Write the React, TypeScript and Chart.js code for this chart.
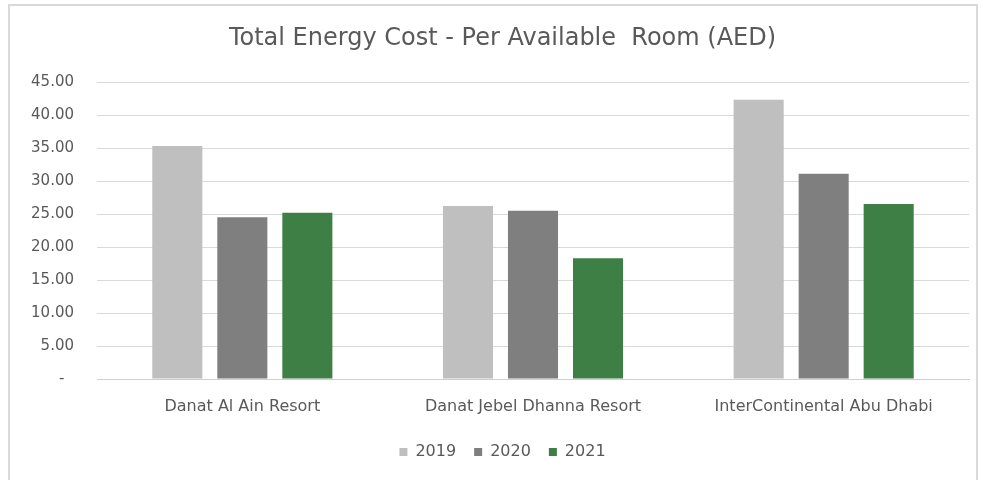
import React, { useEffect, useRef } from "react";
import { Chart, registerables } from "chart.js";

Chart.register(...registerables);

const categories = ["Danat Al Ain Resort", "Danat Jebel Dhanna Resort", "InterContinental Abu Dhabi"];
const seriesLabels = ["2019", "2020", "2021"];
const values2019 = [35.3, 26.2, 42.3];
const values2020 = [24.5, 25.5, 31.1];
const values2021 = [25.2, 18.3, 26.5];
const seriesColors = ["#bfbfbf", "#7f7f7f", "#3d7f45"];
const titleText = "Total Energy Cost - Per Available  Room (AED)";
const yMax = 45;
const yStep = 5;

const unclipYLabels = {
  id: "unclipYLabels",
  afterLayout(chart: any) {
    const y = chart.scales.y;
    if (y) y.left = 0;
  },
};

export default function App() {
  const canvasRef = useRef<HTMLCanvasElement | null>(null);

  useEffect(() => {
    document.body.style.margin = "0";
    const canvas = canvasRef.current;
    if (!canvas) return;
    const font = "'DejaVu Sans', sans-serif";
    const chart = new Chart(canvas, {
      type: "bar",
      data: {
        labels: categories,
        datasets: [values2019, values2020, values2021].map((vals, i) => ({
          label: seriesLabels[i],
          data: vals,
          backgroundColor: seriesColors[i],
          borderWidth: 0,
          categoryPercentage: 0.671,
          barPercentage: 0.77,
        })),
      },
      plugins: [unclipYLabels],
      options: {
        responsive: false,
        animation: false,
        devicePixelRatio: 1,
        layout: { padding: { left: 36, right: 14, top: 10, bottom: 10 } },
        plugins: {
          title: {
            display: true,
            text: titleText,
            color: "#595959",
            font: { family: font, size: 24, weight: "normal" },
            padding: { top: 14.6, bottom: 28.6 },
          },
          legend: {
            display: true,
            position: "bottom",
            labels: {
              boxWidth: 8,
              boxHeight: 8,
              padding: 18,
              color: "#595959",
              font: { family: font, size: 16 },
            },
          },
          tooltip: { enabled: false },
        },
        scales: {
          x: {
            grid: { display: false, drawTicks: false },
            border: { display: true, color: "#d0d0d0", width: 1 },
            ticks: {
              color: "#595959",
              font: { family: font, size: 16 },
              padding: 18,
              maxRotation: 0,
            },
            afterFit: (scale: any) => {
              scale.height = 47;
            },
          },
          y: {
            min: 0,
            max: yMax,
            grid: { color: "#d9d9d9", drawTicks: false, lineWidth: 1 },
            border: { display: false },
            ticks: {
              stepSize: yStep,
              color: "#595959",
              font: { family: font, size: 15 },
              padding: 23,
              callback: (v: any) => (Number(v) === 0 ? "-  " : Number(v).toFixed(2)),
            },
            afterFit: (scale: any) => {
              scale.width = 61;
            },
          },
        },
      },
    });
    return () => chart.destroy();
  }, []);

  return (
    <div style={{ position: "relative", width: 983, height: 480, background: "#ffffff" }}>
      <div
        style={{
          position: "absolute",
          left: 8,
          top: 4,
          width: 966,
          height: 474,
          border: "2px solid #d9d9d9",
          pointerEvents: "none",
        }}
      />
      <canvas ref={canvasRef} width={983} height={480} style={{ position: "absolute", left: 0, top: 0 }} />
    </div>
  );
}
